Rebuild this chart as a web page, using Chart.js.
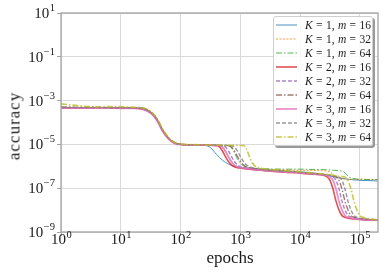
<!DOCTYPE html>
<html>
<head>
<meta charset="utf-8">
<script src="https://cdn.jsdelivr.net/npm/chart.js@4.4.0/dist/chart.umd.min.js"></script>
<style>
  html, body { margin: 0; padding: 0; background: #fff; }
  #wrap { position: relative; width: 383px; height: 279px; overflow: hidden; }
  #chart { position: absolute; left: 0; top: 0; }
  .title { position: absolute; font-family: "Liberation Serif", serif; font-size: 17px; line-height: 17px; color: #1a1a1a; white-space: nowrap; }
  #xtitle { left: 230px; top: 249px; transform: translateX(-50%); }
  #ytitle { left: 14px; top: 126px; transform: translate(-50%, -50%) rotate(-90deg); letter-spacing: 1px; }
  #legend { position: absolute; left: 273px; top: 16px; width: 100px; height: 130px; box-sizing: border-box;
            background: rgba(255,255,255,0.85); border: 1px solid #cfcfcf; border-radius: 3px;
            box-shadow: 2px 2px 0 #9a9a9a; padding-top: 1px; }
  .row { height: 14px; display: flex; align-items: center; }
  .row svg { margin-left: 2px; flex: none; }
  .row span { margin-left: 8px; font-family: "Liberation Serif", serif; font-size: 11.5px; color: #1a1a1a; word-spacing: 0.5px; white-space: nowrap; }
</style>
</head>
<body>
<div id="wrap">
  <canvas id="chart" width="383" height="279"></canvas>
  <div id="xtitle" class="title">epochs</div>
  <div id="ytitle" class="title">accuracy</div>
  <div id="legend"></div>
</div>
<script>
// ---- data (log-spaced epochs shared by all runs) ----
const epochs = [1, 2, 4, 8, 16, 22, 32, 40, 50, 63, 79, 100, 158,
  251, 316, 398, 447, 501, 562, 631, 708, 794, 891, 1000, 1122, 1259, 1413, 1585, 1778, 1995,
  3162, 5623, 10000, 15849, 22387, 28184, 31623, 35481, 39811, 44668, 50119, 56234, 63096,
  70795, 79433, 89125, 100000, 112202, 125893, 158489, 199526];

const accK1m16 = [4.7e-4, 4.7e-4, 4.8e-4, 4.7e-4, 4.6e-4, 4.4e-4, 2.8e-4, 1.38e-4, 4.4e-5, 1.86e-5, 1.17e-5, 1.0e-5, 9.3e-6,
  9.1e-6, 7.1e-6, 3.5e-6, 2.5e-6, 1.9e-6, 1.5e-6, 1.26e-6, 1.1e-6, 1.0e-6, 9.3e-7, 8.9e-7, 8.5e-7, 8.3e-7, 7.9e-7, 7.8e-7, 7.6e-7, 7.4e-7,
  6.8e-7, 6.2e-7, 5.6e-7, 5.0e-7, 4.4e-7, 3.9e-7, 3.6e-7, 3.4e-7, 3.2e-7, 2.95e-7, 2.8e-7, 2.7e-7, 2.57e-7, 2.5e-7, 2.4e-7, 2.35e-7, 2.3e-7, 2.24e-7, 2.24e-7, 2.2e-7, 2.14e-7];
const accK1m32 = [4.9e-4, 4.8e-4, 4.7e-4, 4.8e-4, 4.7e-4, 4.5e-4, 2.9e-4, 1.45e-4, 4.7e-5, 1.95e-5, 1.2e-5, 1.0e-5, 9.5e-6,
  9.3e-6, 9.1e-6, 8.9e-6, 8.7e-6, 7.1e-6, 4.5e-6, 2.5e-6, 1.5e-6, 1.12e-6, 9.5e-7, 8.7e-7, 8.3e-7, 7.9e-7, 7.8e-7, 7.6e-7, 7.6e-7, 7.4e-7,
  7.1e-7, 6.8e-7, 6.6e-7, 6.5e-7, 6.3e-7, 6.0e-7, 5.5e-7, 4.2e-7, 3.2e-7, 2.8e-7, 2.7e-7, 2.6e-7, 2.57e-7, 2.57e-7, 2.57e-7, 2.57e-7, 2.5e-7, 2.57e-7, 2.5e-7, 2.5e-7, 2.5e-7];
const accK1m64 = [5.0e-4, 4.9e-4, 4.9e-4, 4.8e-4, 4.8e-4, 4.6e-4, 3.0e-4, 1.5e-4, 4.8e-5, 2.0e-5, 1.2e-5, 1.02e-5, 9.5e-6,
  9.3e-6, 9.1e-6, 9.1e-6, 8.9e-6, 8.9e-6, 8.9e-6, 8.7e-6, 7.1e-6, 4.2e-6, 2.2e-6, 1.38e-6, 1.05e-6, 9.1e-7, 8.5e-7, 8.1e-7, 7.9e-7, 7.8e-7,
  7.6e-7, 7.4e-7, 7.4e-7, 7.2e-7, 7.1e-7, 6.9e-7, 6.8e-7, 6.6e-7, 6.5e-7, 6.3e-7, 6.0e-7, 5.0e-7, 3.5e-7, 2.95e-7, 2.75e-7, 2.6e-7, 2.57e-7, 2.57e-7, 2.5e-7, 2.5e-7, 2.5e-7];
const accK2m16 = [4.6e-4, 4.6e-4, 4.7e-4, 4.6e-4, 4.5e-4, 4.3e-4, 2.7e-4, 1.32e-4, 4.2e-5, 1.82e-5, 1.15e-5, 1.0e-5, 9.3e-6,
  9.3e-6, 9.1e-6, 8.9e-6, 7.6e-6, 5.0e-6, 2.8e-6, 1.66e-6, 1.17e-6, 9.5e-7, 8.7e-7, 8.3e-7, 7.9e-7, 7.6e-7, 7.4e-7, 7.1e-7, 6.9e-7, 6.8e-7,
  6.0e-7, 5.4e-7, 4.9e-7, 4.4e-7, 4.0e-7, 3.3e-7, 2.24e-7, 8.9e-8, 2.5e-8, 1.0e-8, 5.6e-9, 4.7e-9, 4.3e-9, 4.0e-9, 3.9e-9, 3.8e-9, 3.7e-9, 3.6e-9, 3.5e-9, 3.5e-9, 3.4e-9];
const accK2m32 = [4.8e-4, 4.7e-4, 4.7e-4, 4.8e-4, 4.6e-4, 4.4e-4, 2.8e-4, 1.4e-4, 4.5e-5, 1.9e-5, 1.17e-5, 1.0e-5, 9.3e-6,
  9.3e-6, 9.1e-6, 8.9e-6, 8.9e-6, 8.7e-6, 7.6e-6, 5.0e-6, 2.8e-6, 1.66e-6, 1.17e-6, 9.5e-7, 8.7e-7, 8.3e-7, 7.9e-7, 7.6e-7, 7.2e-7, 6.9e-7,
  6.3e-7, 5.6e-7, 5.1e-7, 4.6e-7, 4.2e-7, 3.9e-7, 3.7e-7, 3.3e-7, 2.24e-7, 8.9e-8, 2.5e-8, 1.0e-8, 5.6e-9, 4.7e-9, 4.3e-9, 4.0e-9, 3.9e-9, 3.8e-9, 3.7e-9, 3.5e-9, 3.5e-9];
const accK2m64 = [5.0e-4, 4.9e-4, 4.8e-4, 4.8e-4, 4.7e-4, 4.6e-4, 2.95e-4, 1.48e-4, 4.7e-5, 1.95e-5, 1.2e-5, 1.02e-5, 9.5e-6,
  9.3e-6, 9.1e-6, 9.1e-6, 8.9e-6, 8.9e-6, 8.9e-6, 8.7e-6, 7.6e-6, 5.0e-6, 2.8e-6, 1.66e-6, 1.17e-6, 9.5e-7, 8.7e-7, 8.3e-7, 7.8e-7, 7.2e-7,
  6.5e-7, 5.75e-7, 5.2e-7, 4.7e-7, 4.3e-7, 4.0e-7, 3.8e-7, 3.6e-7, 3.3e-7, 2.24e-7, 8.9e-8, 2.5e-8, 1.0e-8, 5.6e-9, 4.7e-9, 4.3e-9, 4.0e-9, 3.9e-9, 3.8e-9, 3.6e-9, 3.5e-9];
const accK3m16 = [4.5e-4, 4.5e-4, 4.6e-4, 4.5e-4, 4.4e-4, 4.2e-4, 2.6e-4, 1.26e-4, 4.0e-5, 1.74e-5, 1.12e-5, 9.8e-6, 9.3e-6,
  9.3e-6, 9.1e-6, 8.9e-6, 8.9e-6, 7.6e-6, 5.0e-6, 2.8e-6, 1.66e-6, 1.17e-6, 9.5e-7, 8.7e-7, 8.3e-7, 7.9e-7, 7.6e-7, 7.2e-7, 7.1e-7, 6.8e-7,
  6.2e-7, 5.5e-7, 5.0e-7, 4.5e-7, 4.1e-7, 3.8e-7, 3.3e-7, 2.24e-7, 8.9e-8, 2.5e-8, 1.0e-8, 5.6e-9, 4.7e-9, 4.3e-9, 4.0e-9, 3.9e-9, 3.8e-9, 3.7e-9, 3.6e-9, 3.5e-9, 3.5e-9];
const accK3m32 = [4.9e-4, 4.8e-4, 4.9e-4, 4.7e-4, 4.7e-4, 4.5e-4, 2.95e-4, 1.48e-4, 4.7e-5, 1.95e-5, 1.2e-5, 1.0e-5, 9.5e-6,
  9.3e-6, 9.1e-6, 9.1e-6, 8.9e-6, 8.9e-6, 8.9e-6, 8.9e-6, 8.7e-6, 7.6e-6, 5.0e-6, 2.8e-6, 1.66e-6, 1.17e-6, 9.5e-7, 8.7e-7, 8.1e-7, 7.6e-7,
  6.6e-7, 5.9e-7, 5.4e-7, 4.8e-7, 4.4e-7, 4.1e-7, 3.9e-7, 3.7e-7, 3.5e-7, 3.3e-7, 2.24e-7, 8.9e-8, 2.5e-8, 1.0e-8, 5.6e-9, 4.7e-9, 4.3e-9, 4.0e-9, 3.9e-9, 3.7e-9, 3.5e-9];
const accK3m64 = [7.1e-4, 5.8e-4, 5.2e-4, 5.4e-4, 5.0e-4, 4.8e-4, 3.2e-4, 1.6e-4, 5.0e-5, 2.1e-5, 1.26e-5, 1.05e-5, 9.8e-6,
  9.5e-6, 9.3e-6, 9.3e-6, 9.1e-6, 9.3e-6, 9.1e-6, 9.1e-6, 8.9e-6, 9.1e-6, 8.9e-6, 8.9e-6, 8.9e-6, 6.3e-6, 2.8e-6, 1.41e-6, 1.0e-6, 8.7e-7,
  7.1e-7, 6.3e-7, 5.6e-7, 5.0e-7, 4.6e-7, 4.3e-7, 4.1e-7, 3.9e-7, 3.7e-7, 3.5e-7, 3.4e-7, 3.2e-7, 2.24e-7, 8.9e-8, 2.5e-8, 1.0e-8, 5.6e-9, 4.7e-9, 4.3e-9, 3.9e-9, 3.6e-9];

const seriesK = [1, 1, 1, 2, 2, 2, 3, 3, 3];
const seriesM = [16, 32, 64, 16, 32, 64, 16, 32, 64];
const seriesValues = [accK1m16, accK1m32, accK1m64, accK2m16, accK2m32, accK2m64, accK3m16, accK3m32, accK3m64];

const xTickValues = [1, 10, 100, 1000, 10000, 100000];
const yTickValues = [1e-9, 1e-7, 1e-5, 1e-3, 1e-1, 10];

// ---- styling ----
const colors = [
  "rgba(31,119,180,0.8)",   // blue
  "rgba(255,127,14,0.8)",   // orange
  "rgba(44,160,44,0.8)",    // green
  "rgba(214,39,40,0.8)",    // red
  "rgba(148,103,189,0.8)",  // purple
  "rgba(140,86,75,0.8)",    // brown
  "rgba(227,119,194,0.8)",  // pink
  "rgba(127,127,127,0.8)",  // gray
  "rgba(188,189,34,0.8)"    // olive
];
const dashes = [[], [2, 1.5], [6, 2, 1.5, 2], [], [4, 2], [6, 2, 1.5, 2], [], [4, 2], [6, 2, 1.5, 2]];
const widths = [1, 1, 1, 1.6, 1.4, 1.4, 1.8, 1.4, 1.6];

const datasets = seriesValues.map((vals, i) => ({
  label: `K = ${seriesK[i]}, m = ${seriesM[i]}`,
  data: epochs.map((e, j) => ({ x: e, y: vals[j] })),
  borderColor: colors[i],
  borderWidth: widths[i],
  borderDash: dashes[i],
  pointRadius: 0,
  fill: false,
  cubicInterpolationMode: 'monotone',
  order: seriesValues.length - 1 - i   // later series drawn on top, like matplotlib
}));

// ---- plot frame (all four spines) ----
const framePlugin = {
  id: 'frame',
  afterDatasetsDraw(chart) {
    const { ctx, chartArea: a } = chart;
    ctx.save();
    ctx.strokeStyle = '#a3a3a3';
    ctx.lineWidth = 1.3;
    ctx.strokeRect(a.left, a.top, a.right - a.left, a.bottom - a.top);
    ctx.restore();
  }
};

// ---- "10^n" tick labels with a raised exponent ----
const SERIF = '"Liberation Serif", serif';
function expText(v) {
  const n = Math.round(Math.log10(v));
  return n < 0 ? '\u2212' + (-n) : String(n);
}
const tickLabelPlugin = {
  id: 'tickLabels',
  afterDraw(chart) {
    const { ctx } = chart;
    const xs = chart.scales.x, ys = chart.scales.y;
    ctx.save();
    ctx.fillStyle = '#1a1a1a';
    ctx.textBaseline = 'alphabetic';
    const baseFont = '15px ' + SERIF, supFont = '10.5px ' + SERIF;

    xTickValues.forEach(v => {
      const px = xs.getPixelForValue(v);
      const ex = expText(v);
      ctx.font = baseFont; const w1 = ctx.measureText('10').width;
      ctx.font = supFont; const w2 = ctx.measureText(ex).width;
      const x0 = px - (w1 + w2) / 2;
      const baseY = xs.top + 12;
      ctx.font = baseFont; ctx.textAlign = 'left'; ctx.fillText('10', x0, baseY);
      ctx.font = supFont; ctx.fillText(ex, x0 + w1 + 0.5, baseY - 6.5);
    });

    yTickValues.forEach(v => {
      const py = ys.getPixelForValue(v);
      const ex = expText(v);
      ctx.font = supFont; const w2 = ctx.measureText(ex).width;
      ctx.font = baseFont; const w1 = ctx.measureText('10').width;
      const right = ys.right - 6;
      const baseY = py + 5;
      ctx.textAlign = 'left';
      ctx.font = baseFont; ctx.fillText('10', right - w2 - w1 - 0.5, baseY);
      ctx.font = supFont; ctx.fillText(ex, right - w2, baseY - 7);
    });
    ctx.restore();
  }
};

const gridColor = '#dadada';

new Chart(document.getElementById('chart'), {
  type: 'line',
  data: { datasets },
  options: {
    responsive: false,
    animation: false,
    devicePixelRatio: 1,
    layout: { padding: { top: 13, right: 5, left: 0, bottom: 0 } },
    plugins: { legend: { display: false }, tooltip: { enabled: false } },
    scales: {
      x: {
        type: 'logarithmic',
        min: 1,
        max: 2e5,
        afterBuildTicks: s => { s.ticks = xTickValues.map(v => ({ value: v })); },
        afterFit: s => { s.height = 47; },
        ticks: { display: false },
        grid: { color: gridColor, lineWidth: 1, drawTicks: true, tickLength: 4, tickColor: '#a3a3a3' },
        border: { display: false }
      },
      y: {
        type: 'logarithmic',
        min: 1e-9,
        max: 10,
        afterBuildTicks: s => { s.ticks = yTickValues.map(v => ({ value: v })); },
        afterFit: s => { s.width = 61; },
        ticks: { display: false },
        grid: { color: gridColor, lineWidth: 1, drawTicks: true, tickLength: 4, tickColor: '#a3a3a3' },
        border: { display: false }
      }
    }
  },
  plugins: [framePlugin, tickLabelPlugin]
});

// ---- legend box (upper right, inside the axes) ----
const legendEl = document.getElementById('legend');
seriesK.forEach((k, i) => {
  const row = document.createElement('div');
  row.className = 'row';
  row.innerHTML =
    `<svg width="21" height="6"><line x1="0" y1="3" x2="21" y2="3" stroke="${colors[i]}" ` +
    `stroke-width="${widths[i]}" stroke-dasharray="${dashes[i].length ? dashes[i].join(' ') : 'none'}"/></svg>` +
    `<span><i>K</i> = ${k}, <i>m</i> = ${seriesM[i]}</span>`;
  legendEl.appendChild(row);
});
</script>
</body>
</html>
